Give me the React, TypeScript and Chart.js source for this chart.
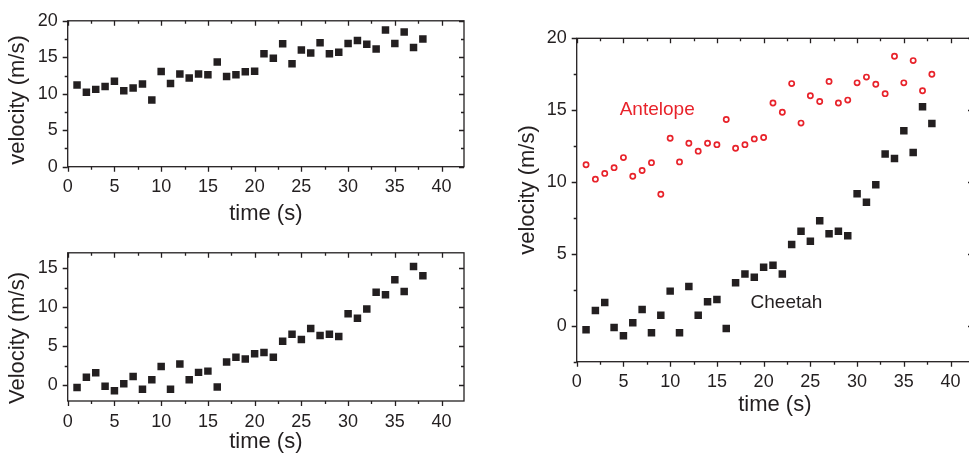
import React, { useEffect, useRef } from "react";
import { Chart, registerables } from "chart.js";

Chart.register(...registerables);

// ---- data ----
const timeSeconds = [
  1, 2, 3, 4, 5, 6, 7, 8, 9, 10, 11, 12, 13, 14, 15, 16, 17, 18, 19,
  20, 21, 22, 23, 24, 25, 26, 27, 28, 29, 30, 31, 32, 33, 34, 35, 36, 37, 38,
];

const antelopeVelocity = [
  11.2, 10.2, 10.6, 11.0, 11.7, 10.4, 10.8, 11.35, 9.15, 13.05,
  11.4, 12.7, 12.15, 12.7, 12.6, 14.35, 12.35, 12.6, 13.0, 13.1,
  15.5, 14.85, 16.85, 14.1, 16.0, 15.6, 17.0, 15.5, 15.7, 16.9,
  17.3, 16.8, 16.15, 18.75, 16.9, 18.45, 16.35, 17.5,
];

const cheetahVelocity = [
  -0.28, 1.06, 1.62, -0.12, -0.69, 0.21, 1.13, -0.49, 0.74, 2.41,
  -0.49, 2.73, 0.74, 1.67, 1.83, -0.19, 2.99, 3.61, 3.38, 4.07,
  4.21, 3.61, 5.65, 6.57, 5.88, 7.31, 6.41, 6.57, 6.27, 9.19,
  8.6, 9.81, 11.95, 11.63, 13.56, 12.05, 15.23, 14.07,
];

const xTitle = "time (s)";
const seriesNames = ["Antelope", "Cheetah"];

// ---- styles ----
const FONT = "'Liberation Sans', Arial, Helvetica, sans-serif";
const INK = "#231f20";
const RED = "#e8232b";

function points(ys: number[]) {
  return timeSeconds.map((t, i) => ({ x: t, y: ys[i] }));
}

type Label = { text: string; x: number; y: number; color: string };

function makeDecor(yTitle: { text: string; x: number; y: number }, labels: Label[]) {
  return {
    id: "frameTicks",
    afterDatasetsDraw(chart: any) {
      const { ctx, chartArea: a, scales } = chart;
      const xs = scales.x;
      const ys = scales.y;
      ctx.save();
      ctx.strokeStyle = INK;
      ctx.lineWidth = 1.3;
      ctx.strokeRect(a.left, a.top, a.right - a.left, a.bottom - a.top);
      ctx.beginPath();
      const step = 2.5;
      for (let v = Math.ceil(xs.min / step) * step; v <= xs.max + 1e-9; v += step) {
        const major = Math.abs(v / 5 - Math.round(v / 5)) < 1e-6;
        const len = major ? 5 : 3;
        const px = Math.round(xs.getPixelForValue(v)) + 0.5;
        ctx.moveTo(px, a.bottom);
        ctx.lineTo(px, a.bottom + len);
        ctx.moveTo(px, a.top);
        ctx.lineTo(px, a.top + len);
      }
      for (let v = Math.ceil(ys.min / step) * step; v <= ys.max + 1e-9; v += step) {
        const major = Math.abs(v / 5 - Math.round(v / 5)) < 1e-6;
        const len = major ? 5 : 3;
        const py = Math.round(ys.getPixelForValue(v)) + 0.5;
        ctx.moveTo(a.left, py);
        ctx.lineTo(a.left - len, py);
        ctx.moveTo(a.right, py);
        ctx.lineTo(a.right - len, py);
      }
      ctx.stroke();

      // y axis title
      ctx.save();
      ctx.translate(yTitle.x, yTitle.y);
      ctx.rotate(-Math.PI / 2);
      ctx.fillStyle = INK;
      ctx.font = `22px ${FONT}`;
      ctx.textAlign = "center";
      ctx.textBaseline = "middle";
      ctx.fillText(yTitle.text, 0, 0);
      ctx.restore();

      // in-plot series labels
      ctx.font = `19px ${FONT}`;
      ctx.textAlign = "left";
      ctx.textBaseline = "middle";
      for (const l of labels) {
        ctx.fillStyle = l.color;
        ctx.fillText(l.text, xs.getPixelForValue(l.x), ys.getPixelForValue(l.y));
      }
      ctx.restore();
    },
  };
}

type PanelSpec = {
  left: number;
  top: number;
  width: number;
  height: number;
  datasets: any[];
  yMin: number;
  yMax: number;
  yAxisWidth: number;
  xAxisHeight: number;
  padTop: number;
  padRight: number;
  xTitlePad: number;
  yTitle: { text: string; x: number; y: number };
  labels: Label[];
};

function Panel(p: PanelSpec) {
  const ref = useRef<HTMLCanvasElement>(null);
  useEffect(() => {
    const chart = new Chart(ref.current!, {
      type: "scatter",
      data: { datasets: p.datasets },
      options: {
        animation: false,
        responsive: false,
        maintainAspectRatio: false,
        devicePixelRatio: 1,
        layout: { padding: { top: p.padTop, right: p.padRight, left: 0, bottom: 0 } },
        plugins: { legend: { display: false }, tooltip: { enabled: false } },
        scales: {
          x: {
            type: "linear",
            min: 0,
            max: 42.4,
            border: { display: false },
            grid: { display: false, drawTicks: false },
            ticks: {
              stepSize: 5,
              includeBounds: false,
              autoSkip: false,
              maxRotation: 0,
              padding: 10,
              color: INK,
              font: { family: FONT, size: 18 },
            },
            title: {
              display: true,
              text: xTitle,
              color: INK,
              font: { family: FONT, size: 22 },
              padding: { top: 0, bottom: p.xTitlePad },
            },
            afterFit: (s: any) => {
              s.height = p.xAxisHeight;
            },
          },
          y: {
            type: "linear",
            min: p.yMin,
            max: p.yMax,
            border: { display: false },
            grid: { display: false, drawTicks: false },
            ticks: {
              stepSize: 5,
              includeBounds: false,
              autoSkip: false,
              padding: 10,
              color: INK,
              font: { family: FONT, size: 18 },
            },
            afterFit: (s: any) => {
              s.width = p.yAxisWidth;
            },
          },
        },
      },
      plugins: [makeDecor(p.yTitle, p.labels)],
    } as any);
    return () => chart.destroy();
  }, []);
  return (
    <canvas
      ref={ref}
      width={p.width}
      height={p.height}
      style={{ position: "absolute", left: p.left, top: p.top, width: p.width, height: p.height }}
    />
  );
}

const squareStyle = {
  pointStyle: "rect",
  pointRadius: 5.3,
  pointBorderWidth: 0,
  pointBackgroundColor: INK,
  pointBorderColor: INK,
  showLine: false,
};

const circleStyle = {
  pointStyle: "circle",
  pointRadius: 2.6,
  pointBorderWidth: 1.7,
  pointBackgroundColor: "rgba(255,255,255,0)",
  pointBorderColor: RED,
  showLine: false,
};

export default function App() {
  return (
    <div
      style={{
        position: "fixed",
        left: 0,
        top: 0,
        width: 969,
        height: 459,
        overflow: "hidden",
        background: "#fff",
      }}
    >
      <Panel
        left={0}
        top={0}
        width={480}
        height={232}
        datasets={[{ label: seriesNames[0], data: points(antelopeVelocity), ...squareStyle }]}
        yMin={0}
        yMax={20}
        yAxisWidth={67.7}
        xAxisHeight={65.3}
        padTop={15}
        padRight={16}
        xTitlePad={5}
        yTitle={{ text: "velocity (m/s)", x: 17.5, y: 100 }}
        labels={[]}
      />
      <Panel
        left={0}
        top={232}
        width={480}
        height={227}
        datasets={[{ label: seriesNames[1], data: points(cheetahVelocity), ...squareStyle }]}
        yMin={-2}
        yMax={17}
        yAxisWidth={67.7}
        xAxisHeight={58}
        padTop={17}
        padRight={16}
        xTitlePad={4}
        yTitle={{ text: "Velocity (m/s)", x: 17.5, y: 106 }}
        labels={[]}
      />
      <Panel
        left={490}
        top={0}
        width={500}
        height={459}
        datasets={[
          { label: seriesNames[0], data: points(antelopeVelocity), ...circleStyle },
          { label: seriesNames[1], data: points(cheetahVelocity), ...squareStyle },
        ]}
        yMin={-2.5}
        yMax={20}
        yAxisWidth={86.7}
        xAxisHeight={97.3}
        padTop={38.3}
        padRight={17}
        xTitlePad={40.5}
        yTitle={{ text: "velocity (m/s)", x: 38.3, y: 190 }}
        labels={[
          { text: seriesNames[0], x: 4.6, y: 15.0, color: RED },
          { text: seriesNames[1], x: 18.6, y: 1.63, color: INK },
        ]}
      />
    </div>
  );
}
